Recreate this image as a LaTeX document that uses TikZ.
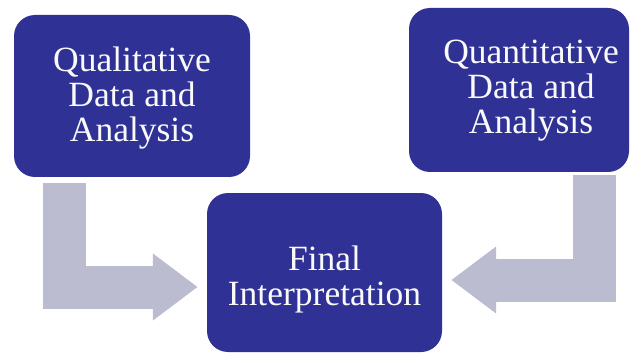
\documentclass[tikz,border=0pt]{standalone}
\usepackage{fontspec}
\setmainfont{Liberation Serif}
\usetikzlibrary{arrows.meta}
\definecolor{boxblue}{RGB}{47,50,148}
\definecolor{arrowgrey}{RGB}{187,188,208}
\definecolor{txt}{RGB}{250,250,250}
\tikzset{
  box/.style={draw=none, fill=boxblue, rounded corners=21pt, inner sep=0pt},
  boxtext/.style={text=txt, align=center, font=\fontsize{35.5pt}{35pt}\selectfont},
  bigarrow/.style={draw=arrowgrey, line width=43pt, line join=miter,
    -{Triangle[length=45pt,width=64pt]}}
}
\begin{document}
\begin{tikzpicture}[x=1pt,y=1pt]
\useasboundingbox (0,0) rectangle (632,354);
\fill[white] (0,0) rectangle (632,354);
% boxes
\node[box, minimum width=236pt, minimum height=162pt,
  label={[boxtext, yshift=-2pt]center:{Qualitative\\Data and\\Analysis}}] (ql) at (132,258) {};
\node[box, minimum width=220pt, minimum height=164pt,
  label={[boxtext, xshift=12pt, yshift=-1pt]center:{Quantitative\\Data and\\Analysis}}] (qn) at (519,264) {};
\node[box, minimum width=235pt, minimum height=159pt,
  label={[boxtext, yshift=-7pt]center:{Final\\Interpretation}}] (fi) at (324.5,81.5) {};
% connector coordinates
\coordinate (lstart) at ([yshift=-6pt]ql.south -| 64,0);
\coordinate (ltip) at ([xshift=-9pt,yshift=-14.5pt]fi.west);
\coordinate (rstart) at ([yshift=-3pt]qn.south -| 594.5,0);
\coordinate (rtip) at ([xshift=9pt,yshift=-7.5pt]fi.east);
\draw[bigarrow] (lstart) |- (ltip);
\draw[bigarrow] (rstart) |- (rtip);
\end{tikzpicture}
\end{document}
